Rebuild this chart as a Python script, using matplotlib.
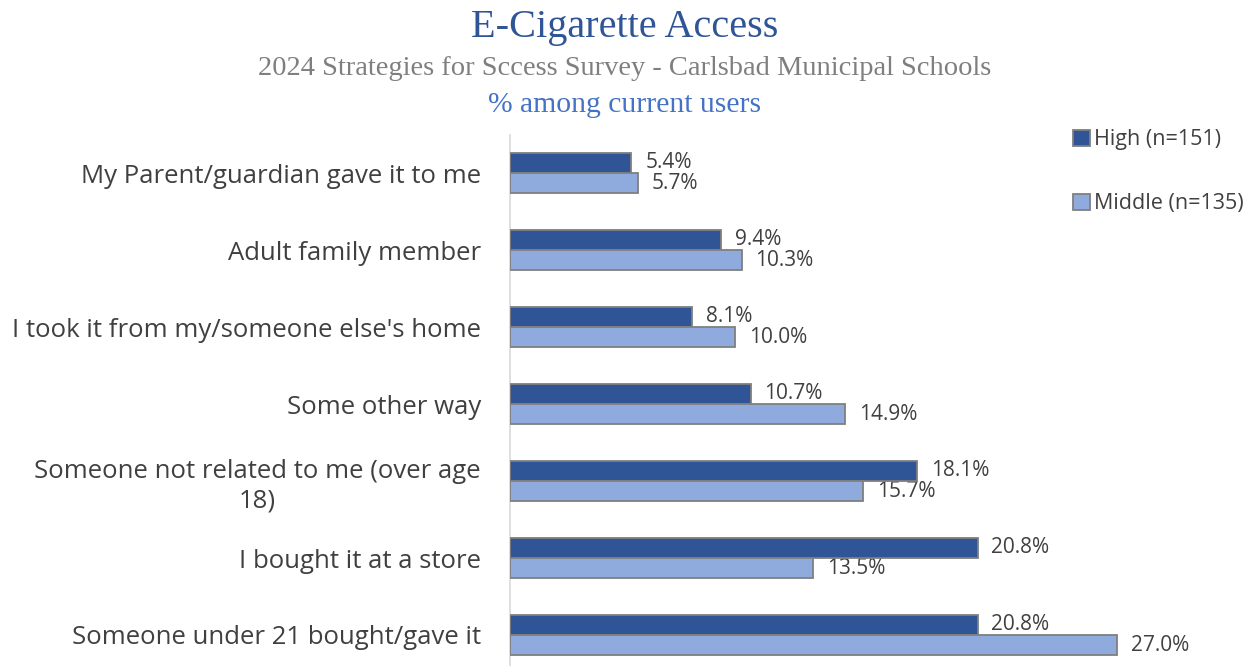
import numpy as np
import matplotlib
matplotlib.use("Agg")
from matplotlib import pyplot as plt

categories = ["My Parent/guardian gave it to me", "Adult family member",
              "I took it from my/someone else's home", "Some other way",
              "Someone not related to me (over age\n18)", "I bought it at a store",
              "Someone under 21 bought/gave it"]
high = [5.4, 9.4, 8.1, 10.7, 18.1, 20.8, 20.8]
middle = [5.7, 10.3, 10.0, 14.9, 15.7, 13.5, 27.0]
series_names = ["High (n=151)", "Middle (n=135)"]

W, H = 1252, 666
fig = plt.figure(figsize=(W / 100, H / 100), dpi=100)
# axes box in pixels: left 510, top 134.5, 77 px per category
left, top, step = 510, 134.5, 77
ax = fig.add_axes([left / W, 1 - (top + 7 * step) / H, 30 * 22.48 / W, 7 * step / H])

y = np.arange(len(categories))
bh = 0.26
edge = "#7F7F7F"
ax.barh(y - bh / 2, high, height=bh, color="#2F5597", edgecolor=edge, linewidth=1.3,
        label=series_names[0], zorder=3)
ax.barh(y + bh / 2, middle, height=bh, color="#8FAADC", edgecolor=edge, linewidth=1.3,
        label=series_names[1], zorder=3)

for i in range(len(categories)):
    ax.annotate(f"{high[i]:.1f}%", (high[i], y[i] - bh / 2), xytext=(10, 0),
                textcoords="offset points", va="center", ha="left",
                fontsize=15, color="#404040", family="Open Sans", zorder=1)
    ax.annotate(f"{middle[i]:.1f}%", (middle[i], y[i] + bh / 2), xytext=(10, 0),
                textcoords="offset points", va="center", ha="left",
                fontsize=15, color="#404040", family="Open Sans", zorder=1)

ax.set_xlim(0, 30)
ax.set_ylim(len(categories) - 0.5, -0.5)
ax.set_yticks(y)
ax.set_yticklabels(categories, fontsize=18.5, color="#404040", family="Open Sans",
                   ha="right", multialignment="center", linespacing=1.25)
ax.tick_params(axis="y", length=0, pad=21)
ax.set_xticks([])
for s in ["top", "right", "bottom"]:
    ax.spines[s].set_visible(False)
ax.spines["left"].set_color("#D9D9D9")
ax.spines["left"].set_linewidth(1.2)

# header lines, placed by baseline
fig.text(625 / W, 1 - 37 / H, "E-Cigarette Access", ha="center", va="baseline",
         fontsize=29, color="#2F5597", family="Liberation Serif")
fig.text(625 / W, 1 - 75 / H, "2024 Strategies for Sccess Survey - Carlsbad Municipal Schools",
         ha="center", va="baseline", fontsize=20.5, color="#7F7F7F", family="Liberation Serif")
fig.text(625 / W, 1 - 112 / H, "% among current users", ha="center", va="baseline",
         fontsize=21.3, color="#4472C4", family="Liberation Serif")

leg = fig.legend(loc="upper left", bbox_to_anchor=(1054 / W, 1 - 110 / H), frameon=False,
                 labelspacing=2.0, handlelength=0.75, handleheight=0.75,
                 handletextpad=0.2, prop={"family": "Open Sans", "size": 15.5})
for t in leg.get_texts():
    t.set_color("#404040")

fig.savefig("out.png", dpi=100)
